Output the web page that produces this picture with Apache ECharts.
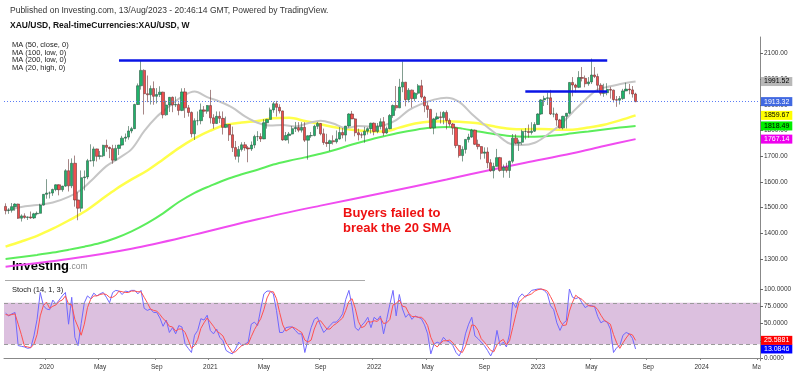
<!DOCTYPE html>
<html><head><meta charset="utf-8">
<script src="https://cdn.jsdelivr.net/npm/echarts@6/dist/echarts.min.js"></script>
<style>html,body{margin:0;padding:0;background:#fff}#c{width:800px;height:376px}</style>
</head><body><div id="c"></div>
<script>
// ---------- data ----------
const firstWeek = '2019-10-07';   // Monday of first weekly bar
const axisWeeks = 240;            // weekly slots on the time axis (incl. empty future)
// weekly bars: [open, high, low, close]
const weeklyOHLC = [
[1505,1517,1474,1489],[1489,1498,1476,1490],[1490,1518,1481,1504],[1504,1517,1488,1514],
[1514,1516,1456,1459],[1459,1474,1446,1468],[1468,1478,1457,1462],[1462,1466,1452,1464],
[1464,1485,1457,1460],[1460,1480,1456,1476],[1476,1485,1470,1478],[1478,1515,1477,1510],
[1510,1553,1508,1552],[1552,1611,1535,1557],[1557,1563,1536,1557],[1557,1574,1546,1571],
[1571,1591,1564,1589],[1589,1591,1548,1570],[1570,1585,1562,1584],[1584,1650,1581,1644],
[1644,1689,1563,1585],[1585,1692,1576,1673],[1673,1703,1504,1530],[1530,1560,1451,1498],
[1498,1645,1484,1617],[1617,1645,1567,1620],[1620,1690,1611,1683],[1683,1747,1680,1683],
[1683,1738,1660,1729],[1729,1730,1680,1700],[1700,1721,1688,1702],[1702,1745,1697,1743],
[1743,1765,1718,1735],[1735,1738,1693,1730],[1730,1745,1671,1685],[1685,1745,1683,1731],
[1731,1745,1705,1744],[1744,1780,1742,1771],[1771,1789,1757,1775],[1775,1818,1765,1799],
[1799,1815,1790,1808],[1808,1905,1806,1902],[1902,1984,1900,1975],[1975,2075,1960,2035],
[2035,2039,1863,1944],[1944,2015,1911,1940],[1940,1976,1902,1964],[1964,1992,1901,1934],
[1934,1966,1906,1941],[1941,1973,1931,1950],[1950,1952,1848,1862],[1862,1917,1858,1900],
[1900,1931,1873,1930],[1930,1933,1872,1900],[1900,1933,1892,1902],[1902,1910,1860,1879],
[1879,1965,1876,1951],[1951,1966,1850,1889],[1889,1900,1855,1871],[1871,1875,1774,1788],
[1788,1848,1764,1839],[1839,1875,1821,1839],[1839,1906,1825,1881],[1881,1896,1853,1876],
[1876,1900,1866,1898],[1898,1959,1828,1850],[1850,1864,1808,1828],[1828,1875,1827,1856],
[1856,1875,1830,1848],[1848,1875,1785,1813],[1813,1855,1810,1824],[1824,1826,1760,1784],
[1784,1816,1717,1734],[1734,1760,1687,1700],[1700,1740,1676,1727],[1727,1755,1719,1745],
[1745,1756,1722,1733],[1733,1740,1677,1729],[1729,1758,1721,1744],[1744,1784,1732,1777],
[1777,1798,1760,1777],[1777,1790,1756,1768],[1768,1845,1767,1831],[1831,1846,1808,1844],
[1844,1890,1843,1881],[1881,1913,1870,1905],[1905,1916,1855,1891],[1891,1903,1867,1877],
[1877,1878,1761,1764],[1764,1795,1761,1781],[1781,1795,1750,1787],[1787,1818,1785,1808],
[1808,1834,1795,1812],[1812,1833,1794,1802],[1802,1833,1793,1813],[1813,1833,1756,1763],
[1763,1782,1687,1780],[1780,1795,1772,1781],[1781,1823,1778,1817],[1817,1834,1806,1828],
[1828,1830,1782,1788],[1788,1808,1745,1754],[1754,1788,1737,1750],[1750,1765,1721,1761],
[1761,1782,1746,1757],[1757,1801,1750,1768],[1768,1814,1765,1793],[1793,1810,1770,1783],
[1783,1818,1758,1818],[1818,1868,1812,1865],[1865,1877,1846,1846],[1846,1849,1778,1792],
[1792,1808,1762,1784],[1784,1793,1771,1783],[1783,1815,1753,1798],[1798,1813,1785,1808],
[1808,1831,1789,1829],[1829,1832,1782,1797],[1797,1830,1790,1817],[1817,1848,1805,1835],
[1835,1853,1780,1791],[1791,1816,1788,1808],[1808,1865,1805,1859],[1859,1902,1850,1898],
[1898,1974,1878,1889],[1889,2002,1888,1970],[1970,2070,1950,1989],[1989,1990,1895,1921],
[1921,1966,1910,1958],[1958,1960,1890,1925],[1925,1950,1915,1946],[1946,1982,1940,1975],
[1975,1998,1925,1931],[1931,1936,1872,1897],[1897,1910,1850,1883],[1883,1885,1808,1811],
[1811,1850,1786,1846],[1846,1870,1842,1854],[1854,1874,1828,1851],[1851,1876,1825,1871],
[1871,1879,1805,1840],[1840,1848,1816,1826],[1826,1830,1784,1811],[1811,1813,1732,1742],
[1742,1745,1695,1703],[1703,1739,1680,1727],[1727,1767,1711,1766],[1766,1788,1754,1775],
[1775,1807,1772,1802],[1802,1804,1744,1747],[1747,1765,1727,1738],[1738,1740,1688,1712],
[1712,1735,1691,1717],[1717,1735,1654,1675],[1675,1689,1640,1644],[1644,1675,1614,1661],
[1661,1729,1660,1695],[1695,1698,1640,1645],[1645,1668,1617,1658],[1658,1675,1637,1645],
[1645,1683,1616,1681],[1681,1787,1673,1771],[1771,1786,1747,1751],[1751,1765,1721,1755],
[1755,1804,1745,1797],[1797,1810,1766,1797],[1797,1824,1773,1793],[1793,1833,1785,1798],
[1798,1833,1795,1824],[1824,1868,1822,1865],[1865,1923,1862,1920],[1920,1936,1896,1926],
[1926,1949,1900,1928],[1928,1959,1861,1865],[1865,1890,1852,1865],[1865,1870,1819,1842],
[1842,1846,1809,1811],[1811,1858,1805,1856],[1856,1869,1809,1868],[1868,1989,1864,1988],
[1988,2009,1934,1978],[1978,1983,1949,1969],[1969,2032,1966,2007],[2007,2048,1992,2004],
[2004,2015,1969,1983],[1983,2009,1975,1990],[1990,2081,1982,2017],[2017,2048,2005,2011],
[2011,2022,1952,1977],[1977,1985,1937,1946],[1946,1983,1932,1948],[1948,1985,1938,1961],
[1961,1971,1925,1958],[1958,1960,1910,1921],[1921,1935,1893,1919],[1919,1935,1902,1925],
[1925,1963,1920,1955],[1955,1987,1954,1962],[1962,1982,1942,1959],[1959,1974,1929,1943],
[1943,1948,1911,1913.32]
];
// moving averages: [weekIndex, value]
const ma20High = [[0,1488],[5,1503],[10,1510],[15,1520],[20,1542],[24,1570],[28,1615],[32,1662],[36,1693],[40,1728],[44,1798],[48,1854],[52,1895],[56,1933],[60,1953],[64,1931],[68,1913],[72,1890],[76,1856],[80,1831],[84,1820],[88,1822],[92,1816],[96,1829],[100,1839],[104,1828],[108,1810],[112,1818],[116,1816],[120,1820],[124,1841],[128,1880],[132,1904],[136,1921],[140,1928],[144,1912],[148,1865],[152,1823],[156,1785],[160,1750],[164,1744],[168,1753],[172,1784],[176,1822],[180,1872],[184,1920],[188,1960],[192,1973],[196,1984],[200,1991.52]];
const ma50Close = [[0,1348],[5,1368],[10,1390],[15,1418],[20,1450],[25,1484],[30,1528],[35,1572],[40,1610],[45,1645],[50,1688],[55,1732],[60,1770],[65,1800],[70,1823],[75,1832],[80,1838],[85,1848],[90,1850],[95,1838],[100,1825],[105,1812],[110,1804],[115,1798],[120,1797],[125,1812],[130,1828],[135,1836],[140,1837],[145,1834],[150,1829],[155,1817],[160,1808],[165,1806],[170,1807],[175,1804],[180,1804],[185,1812],[190,1823],[195,1840],[200,1859.67]];
const ma100Low = [[0,1300],[5,1308],[10,1316],[15,1325],[20,1336],[25,1348],[30,1362],[35,1382],[40,1408],[45,1440],[50,1478],[55,1522],[60,1558],[65,1585],[70,1610],[75,1630],[80,1648],[85,1668],[90,1683],[95,1696],[100,1710],[105,1727],[110,1746],[115,1763],[120,1778],[125,1792],[130,1803],[135,1811],[140,1814],[145,1808],[150,1797],[155,1787],[160,1779],[165,1776],[170,1777],[175,1782],[180,1790],[185,1797],[190,1805],[195,1812],[200,1818.49]];
const ma200Low = [[0,1270],[20,1300],[40,1340],[60,1395],[80,1455],[100,1508],[120,1558],[140,1610],[155,1650],[165,1675],[180,1712],[190,1740],[200,1767.14]];
// Stoch(14,1,3)
const stochK = [65,61,64,66,18,17,16,14,15,32,56,95,76,71,70,84,78,84,90,95,
49,88,30,18,50,80,90,86,94,90,93,95,88,80,95,98,97,92,97,96,
98,98,93,98,72,69,71,66,66,58,46,55,37,44,35,47,45,20,14,8,
33,40,57,55,62,40,35,42,30,25,11,8,6,13,23,18,20,23,49,52,
47,71,93,97,97,93,69,37,37,44,45,45,40,35,35,8,27,44,56,59,
47,37,42,47,52,52,57,64,85,98,75,44,40,47,52,59,44,59,55,61,
35,56,78,98,61,92,71,59,64,56,61,59,57,48,35,6,20,23,21,30,
25,23,18,8,3,13,35,49,59,32,28,23,18,11,3,13,40,18,23,16,
35,81,73,88,93,88,93,98,99,100,100,98,93,76,70,51,40,50,54,100,
88,86,88,80,73,76,76,74,60,51,54,52,42,8,15,18,33,37,35,28.6,
13.0846];
const stochD = [63,62,63,64,49,34,17,16,15,20,34,61,76,81,72,75,77,82,84,90,
78,77,56,45,33,49,73,85,90,90,92,93,92,88,88,91,97,96,95,95,
97,97,96,96,88,80,71,69,68,63,57,53,46,45,39,42,42,37,26,14,
18,27,43,51,58,52,46,39,36,32,22,15,8,9,14,18,20,20,31,41,
49,57,70,87,96,96,86,66,48,39,42,45,43,40,37,26,23,26,42,53,
54,48,42,42,47,50,54,58,69,82,86,72,53,44,46,53,52,54,53,58,
50,51,56,77,79,84,75,74,65,60,60,59,59,55,47,30,20,16,21,25,
25,26,22,16,10,8,17,32,48,47,40,28,23,17,11,9,19,24,27,19,
25,44,63,81,85,90,91,93,97,99,100,99,97,89,80,66,54,47,48,68,
81,91,87,85,80,76,75,75,70,62,55,52,49,34,22,14,22,29,35,33.5,
25.5881];
const lastPrice = 1913.32;
const maLast = {ma20High: 1991.52, ma50Close: 1859.67, ma100Low: 1818.49, ma200Low: 1767.14};
const resistanceTop = {from: '2020-06-15', to: '2023-06-05', price: 2075};
const resistanceMid = {from: '2022-12-05', to: '2023-06-05', price: 1954};
const priceTicks = [1300,1400,1500,1600,1700,1800,1900,2000,2100];
const stochTicks = [0,25,50,75,100];
const monthNames = {4: 'May', 8: 'Sep'};

// ---------- build ----------
const categories = [];
const t0 = Date.parse(firstWeek + 'T00:00:00Z');
for (let i = 0; i < axisWeeks; i++) {
  categories.push(new Date(t0 + i * 7 * 86400000).toISOString().slice(0, 10));
}
const monthOf = s => +s.slice(5, 7) - 1;
function isLabelWeek(idx) {
  if (idx === 0) return false;
  const m = monthOf(categories[idx]);
  return m !== monthOf(categories[idx - 1]) && (m === 0 || m === 4 || m === 8);
}
const candleData = weeklyOHLC.map(r => [r[0], r[3], r[2], r[1]]);
const FONT = 'Liberation Sans, Arial, sans-serif';

function endBox(value, bg, fg, digits) {
  return {
    silent: true, symbol: 'none',
    lineStyle: {color: 'rgba(0,0,0,0)', width: 0},
    label: {show: true, position: 'end', distance: 1, formatter: value.toFixed(digits),
      backgroundColor: bg, color: fg, fontSize: 7, fontFamily: FONT, lineHeight: 7,
      padding: [1, 3, 1, 3]},
    data: [{yAxis: value}]
  };
}
function maSeries(name, data, color, width, last) {
  return {name, type: 'line', xAxisIndex: 0, yAxisIndex: 0, data, smooth: 0.35,
    showSymbol: false, silent: true, z: 2,
    lineStyle: {color, width}, markLine: endBox(last.v, last.bg, last.fg, 2)};
}

const chart = echarts.init(document.getElementById('c'), null, {renderer: 'canvas'});
chart.setOption({
  animation: false,
  backgroundColor: '#fff',
  textStyle: {fontFamily: FONT},
  grid: [
    {left: 4, right: 40, top: 37, height: 244},
    {left: 4, right: 40, top: 281, height: 79.7}
  ],
  xAxis: [
    {type: 'category', gridIndex: 0, data: categories, show: false},
    {type: 'category', gridIndex: 1, data: categories,
      axisLine: {lineStyle: {color: '#888', width: 1}},
      axisTick: {show: true, length: 2, interval: isLabelWeek, lineStyle: {color: '#888'}},
      axisLabel: {interval: isLabelWeek, fontSize: 6.5, color: '#333', margin: 3,
        formatter: v => { const m = monthOf(v); return m === 0 ? v.slice(0, 4) : monthNames[m]; }},
      splitLine: {show: false}}
  ],
  yAxis: [
    {type: 'value', gridIndex: 0, position: 'right', min: 1214.27, max: 2165.07,
      axisLine: {show: true, lineStyle: {color: '#888', width: 1}},
      axisTick: {show: true, length: 3, customValues: priceTicks, lineStyle: {color: '#666'}},
      axisLabel: {customValues: priceTicks, fontSize: 6.5, color: '#333', margin: 4,
        formatter: v => v.toFixed(2)},
      splitLine: {show: false}},
    {type: 'value', gridIndex: 1, position: 'right', min: -3.9, max: 111.6,
      axisLine: {show: true, lineStyle: {color: '#888', width: 1}},
      axisTick: {show: true, length: 3, customValues: stochTicks, lineStyle: {color: '#666'}},
      axisLabel: {customValues: stochTicks, fontSize: 6.5, color: '#333', margin: 4,
        formatter: v => v.toFixed(4)},
      splitLine: {show: false}}
  ],
  series: [
    maSeries('MA200 low', ma200Low, '#f04cf0', 2, {v: maLast.ma200Low, bg: '#ee00ee', fg: '#fff'}),
    maSeries('MA100 low', ma100Low, '#5ced5c', 2, {v: maLast.ma100Low, bg: '#00ee00', fg: '#000'}),
    maSeries('MA50 close', ma50Close, '#ffff4a', 2.5, {v: maLast.ma50Close, bg: '#ffff00', fg: '#000'}),
    maSeries('MA20 high', ma20High, '#c6c6c6', 2, {v: maLast.ma20High, bg: '#b8b8b8', fg: '#000'}),
    {name: 'XAU/USD', type: 'candlestick', xAxisIndex: 0, yAxisIndex: 0, data: candleData,
      barWidth: 2.8, z: 3,
      itemStyle: {color: '#1fb36a', color0: '#f04e4e', borderColor: '#2e5a44', borderColor0: '#6a3434', borderWidth: 0.6},
      markLine: {silent: true, symbol: 'none',
        data: [
          {yAxis: lastPrice, lineStyle: {color: '#5b7cf5', type: [1, 2], width: 1},
            label: {show: true, position: 'end', distance: 1, formatter: lastPrice.toFixed(2),
              backgroundColor: '#4169e1', color: '#fff', fontSize: 7, lineHeight: 7, padding: [1, 3, 1, 3]}},
          [{coord: [resistanceTop.from, resistanceTop.price]}, {coord: [resistanceTop.to, resistanceTop.price]}],
          [{coord: [resistanceMid.from, resistanceMid.price]}, {coord: [resistanceMid.to, resistanceMid.price]}]
        ],
        lineStyle: {color: '#0a14e6', width: 2.5, type: 'solid'},
        label: {show: false}
      }},
    {name: '%K', type: 'line', xAxisIndex: 1, yAxisIndex: 1, data: stochK, showSymbol: false,
      silent: true, z: 3, lineStyle: {color: '#7068ff', width: 1},
      markArea: {silent: true, itemStyle: {color: '#dcc0df'}, data: [[{yAxis: 20}, {yAxis: 80}]]},
      markLine: endBox(stochK[stochK.length - 1], '#0000ff', '#fff', 4)},
    {name: '%D', type: 'line', xAxisIndex: 1, yAxisIndex: 1, data: stochD, showSymbol: false,
      silent: true, z: 3, lineStyle: {color: '#ff5151', width: 1},
      markLine: {silent: true, symbol: 'none',
        data: [
          {yAxis: 80, lineStyle: {color: '#9a9a9a', type: [4, 3], width: 1}, label: {show: false}},
          {yAxis: 20, lineStyle: {color: '#9a9a9a', type: [4, 3], width: 1}, label: {show: false}},
          {yAxis: stochD[stochD.length - 1], lineStyle: {color: 'rgba(0,0,0,0)', width: 0},
            label: {show: true, position: 'end', distance: 1, formatter: stochD[stochD.length - 1].toFixed(4),
              backgroundColor: '#ff0000', color: '#fff', fontSize: 7, lineHeight: 7, padding: [1, 3, 1, 3]}}
        ]}}
  ],
  graphic: [
    {type: 'text', left: 10, top: 6, style: {text: 'Published on Investing.com, 13/Aug/2023 - 20:46:14 GMT, Powered by TradingView.', font: '8.5px ' + FONT, fill: '#333'}},
    {type: 'text', left: 10, top: 21, style: {text: 'XAU/USD, Real-timeCurrencies:XAU/USD, W', font: 'bold 8.5px ' + FONT, fill: '#111'}},
    {type: 'text', left: 12, top: 41, style: {text: 'MA (50, close, 0)\nMA (100, low, 0)\nMA (200, low, 0)\nMA (20, high, 0)', font: '7.5px ' + FONT, fill: '#222', lineHeight: 7.7}},
    {type: 'text', left: 12, top: 286, style: {text: 'Stoch (14, 1, 3)', font: '7.5px ' + FONT, fill: '#222'}},
    {type: 'text', left: 12, top: 260, style: {text: '{a|Investing}{b|.com}', rich: {
      a: {fontSize: 13, fontWeight: 'bold', fill: '#000', fontFamily: FONT},
      b: {fontSize: 8.5, fill: '#888', fontFamily: FONT}}}},
    {type: 'text', left: 343, top: 206, style: {text: 'Buyers failed to\nbreak the 20 SMA', font: 'bold 13px ' + FONT, fill: '#ee1111', lineHeight: 15}},
    {type: 'line', shape: {x1: 5, y1: 280.5, x2: 365, y2: 280.5}, style: {stroke: '#aaa', lineWidth: 1}, z: 50},
    {type: 'rect', shape: {x: 760.5, y: 362, width: 40, height: 14}, style: {fill: '#fff'}, z: 100}
  ]
});
</script></body></html>
